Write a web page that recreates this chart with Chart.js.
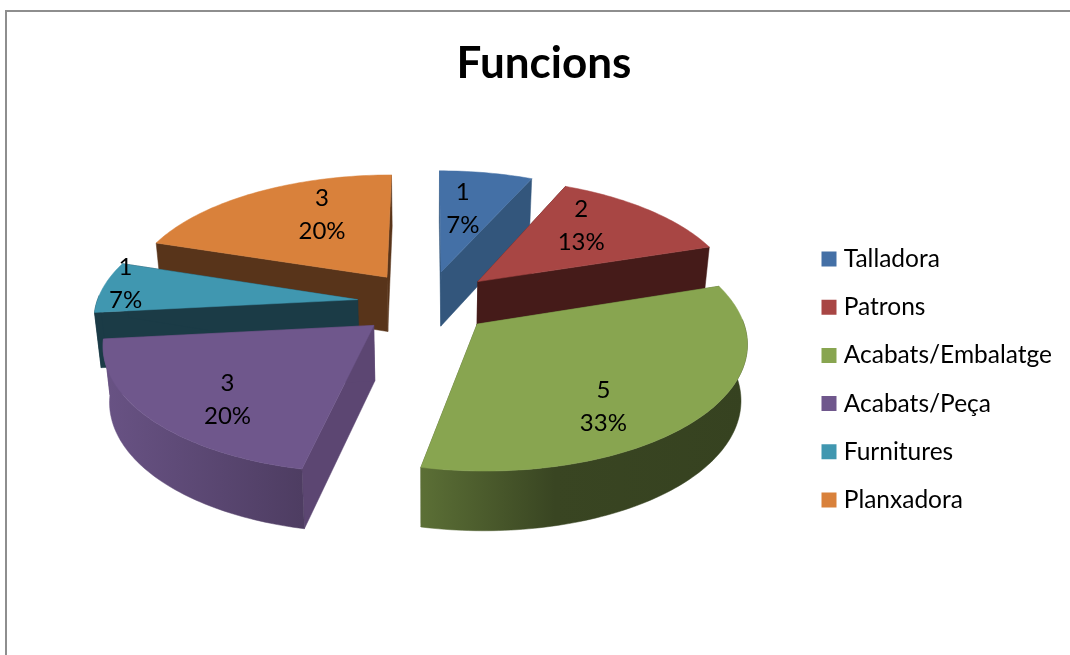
<!DOCTYPE html>
<html><head><meta charset="utf-8">
<style>
html,body{margin:0;padding:0;background:#fff;overflow:hidden;width:1070px;height:655px}
#frame{position:absolute;left:5px;top:10px;width:1200px;height:800px;border:2px solid #8e8e8e}
#wrap{position:absolute;left:0;top:0;width:1088px;height:655px}
</style>
<script src="https://cdn.jsdelivr.net/npm/chart.js@4"></script>
</head><body>
<div id="frame"></div>
<div id="wrap"><canvas id="c"></canvas></div>
<script>
const categories = ["Talladora","Patrons","Acabats/Embalatge","Acabats/Peça","Furnitures","Planxadora"];
const values = [1,2,5,3,1,3];
const topColors = ["#4470a6","#a84644","#88a550","#6f578c","#4097b0","#d9813b"];
const radialColors = ["#33567c","#451b19","#4a5a2a","#5c4672","#1b3b46","#58341a"];
const explode = [70,70,66,70,70,70];
const labelReach = [0.90,0.92,0.90,0.97,1.18,0.86];
const labelNudge = [[-8,2],[-11,-8],[-13,24],[6,10],[0,-4],[16,-10]];
const drawOrder = [0,1,5,4,3,2];

const view = {ox:427, oy:303, persp:0.13, flat:0.467, depth:55, converge:0.98};
const total = values.reduce((a,b)=>a+b,0);

function shade(hex,f){
  const n=parseInt(hex.slice(1),16);
  return `rgb(${Math.round((n>>16&255)*f)},${Math.round((n>>8&255)*f)},${Math.round((n&255)*f)})`;
}
function proj(R,u,v){
  const w=1/(1-view.persp*v);
  return {x:view.ox+R*u*w, y:view.oy+R*view.flat*v*w, w};
}
function low(p){
  return {x:view.ox+(p.x-view.ox)*view.converge, y:p.y+view.depth*Math.sqrt(p.w)};
}
function poly(ctx,pts,fill){
  ctx.beginPath();
  pts.forEach((p,i)=>i?ctx.lineTo(p.x,p.y):ctx.moveTo(p.x,p.y));
  ctx.closePath();
  ctx.fillStyle=fill; ctx.strokeStyle=fill; ctx.lineWidth=0.5;
  ctx.fill(); ctx.stroke();
}
const pie3d = {
  id:'pie3d',
  afterLayout(chart){
    const l=chart.legend;
    l.left-=26; l.right-=26; l.top+=45; l.bottom+=45;
  },
  beforeDatasetsDraw(chart){
    const ctx=chart.ctx, arcs=chart.getDatasetMeta(0).data;
    ctx.save();
    drawOrder.forEach(i=>{
      const a=arcs[i], R=a.outerRadius, e=a.options.offset/R;
      const mid=(a.startAngle+a.endAngle)/2;
      const ex=e*Math.cos(mid), ey=e*Math.sin(mid);
      const n=Math.max(2,Math.ceil((a.endAngle-a.startAngle)/0.02));
      const rim=[], front=[];
      for(let k=0;k<=n;k++){
        const t=a.startAngle+(a.endAngle-a.startAngle)*k/n;
        const p=proj(R,ex+Math.cos(t),ey+Math.sin(t));
        rim.push(p);
        if(Math.sin(t)>-0.05) front.push(p);
      }
      const apex=proj(R,ex,ey);
      const apexLow=low(apex);
      // radial walls
      poly(ctx,[apex,rim[0],low(rim[0]),apexLow],radialColors[i]);
      poly(ctx,[apex,rim[n],low(rim[n]),apexLow],radialColors[i]);
      // outer wall: only the part facing the viewer, lit from the left
      if(front.length>1){
        let fill=radialColors[i];
        if(Math.sin(mid)>0){
          fill=ctx.createLinearGradient(100,0,750,0);
          [[0,.95],[.31,.70],[.49,.68],[.70,.42],[1,.40]].forEach(([s,f])=>fill.addColorStop(s,shade(topColors[i],f)));
        }
        poly(ctx,front.concat(front.map(low).reverse()),fill);
      }
      // top face
      poly(ctx,[apex].concat(rim),topColors[i]);
    });
    ctx.fillStyle='#000'; ctx.textAlign='center'; ctx.textBaseline='middle';
    ctx.font='24px Lato';
    arcs.forEach((a,i)=>{
      const R=a.outerRadius, mid=(a.startAngle+a.endAngle)/2, r=labelReach[i];
      const p=proj(R,r*Math.cos(mid),r*Math.sin(mid));
      const x=p.x+labelNudge[i][0], y=p.y+labelNudge[i][1];
      ctx.fillText(String(values[i]),x,y-16.5);
      ctx.fillText(Math.round(values[i]/total*100)+'%',x,y+16.5);
    });
    ctx.restore();
    return false;
  }
};
new Chart(document.getElementById('c'),{
  type:'pie',
  data:{labels:categories,datasets:[{data:values,backgroundColor:topColors,borderWidth:0,offset:explode,radius:261}]},
  plugins:[pie3d],
  options:{
    responsive:true,maintainAspectRatio:false,animation:false,
    layout:{padding:{right:0,top:14,bottom:0}},
    plugins:{
      tooltip:{enabled:false},
      title:{display:true,text:'Funcions',color:'#000',font:{family:'Lato',size:44,weight:'bold'},padding:{top:23,bottom:20}},
      legend:{position:'right',labels:{
        color:'#000',font:{family:'Lato',size:24.5},boxWidth:5,boxHeight:5,padding:23.7,
        generateLabels(chart){
          return Chart.overrides.pie.plugins.legend.labels.generateLabels(chart).map(l=>({...l,lineWidth:10,strokeStyle:l.fillStyle}));
        }
      }}
    }
  }
});
</script>
</body></html>
